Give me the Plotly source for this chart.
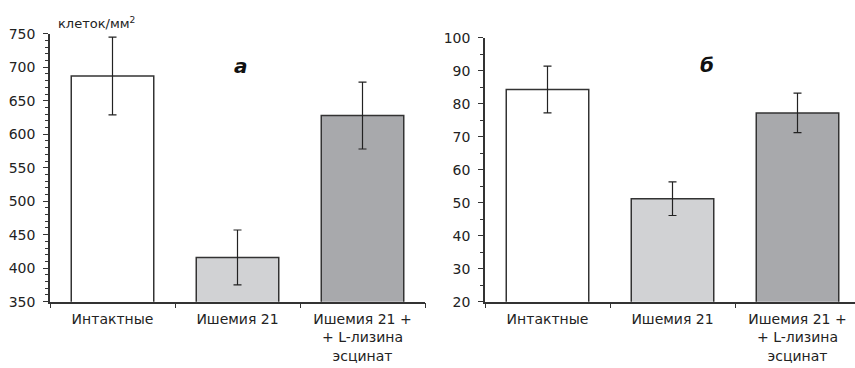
import plotly.graph_objects as go

categories = ["Интактные", "Ишемия 21", "Ишемия 21 +<br>+ L-лизина<br>эсцинат"]
left_values = [687, 416, 628]
left_err = [58, 41, 50]
right_values = [84.3, 51.2, 77.2]
right_err = [7.1, 5.1, 6.0]
bar_colors = ["#ffffff", "#d1d2d4", "#a8a9ac"]

W, H = 855, 368
def px(x):
    return x / W
def py(y):
    return (H - y) / H

LINE = "#333333"
FONT = dict(family="DejaVu Sans", size=14, color="#222222")

fig = go.Figure()
fig.add_trace(go.Bar(
    x=categories, y=left_values, xaxis="x", yaxis="y",
    marker=dict(color=bar_colors, line=dict(color=LINE, width=1.5)),
    width=0.66,
    error_y=dict(type="data", array=left_err, color="#222222", thickness=1.2, width=4),
    showlegend=False,
))
fig.add_trace(go.Bar(
    x=categories, y=right_values, xaxis="x2", yaxis="y2",
    marker=dict(color=bar_colors, line=dict(color=LINE, width=1.5)),
    width=0.66,
    error_y=dict(type="data", array=right_err, color="#222222", thickness=1.2, width=4),
    showlegend=False,
))

def xax(domain, rng, anchor):
    return dict(domain=domain, anchor=anchor, type="category", range=rng,
                showline=True, linecolor=LINE, linewidth=1.5,
                ticks="outside", tickson="boundaries", ticklen=5, tickcolor=LINE,
                tickwidth=1.2, showgrid=False, zeroline=False, tickfont=FONT,
                ticklabelstandoff=4, fixedrange=True)

def yax(domain, rng, dtick, minor, anchor):
    return dict(domain=domain, anchor=anchor, range=rng, dtick=dtick,
                showline=True, linecolor=LINE, linewidth=1.5,
                ticks="outside", ticklen=5, tickcolor=LINE, tickwidth=1.2,
                minor=dict(dtick=minor, ticks="outside", ticklen=3, tickcolor=LINE, tickwidth=1),
                showgrid=False, zeroline=False, tickfont=FONT,
                ticklabelstandoff=5)

def yax_inner(domain, rng, dtick, anchor, overlay):
    return dict(domain=domain, anchor=anchor, overlaying=overlay, range=rng, dtick=dtick,
                showline=False, ticks="inside", ticklen=5, tickcolor=LINE, tickwidth=1.2,
                showticklabels=False, showgrid=False, zeroline=False)

fig.update_layout(
    width=W, height=H, margin=dict(l=0, r=0, t=0, b=0),
    paper_bgcolor="white", plot_bgcolor="white",
    font=FONT, bargap=0.34,
    xaxis=xax([px(50), px(425)], [-0.5, 2.5], "y"),
    yaxis=yax([py(307), py(27)], [350, 750], 50, 10, "x"),
    xaxis2=xax([px(485), 1.0], [-0.5, 2.46], "y2"),
    yaxis2=yax([py(307), py(31)], [20, 100], 10, 5, "x2"),
    yaxis3=yax_inner([py(307), py(27)], [350, 750], 50, "x", "y"),
    yaxis4=yax_inner([py(307), py(31)], [20, 100], 10, "x2", "y2"),
    annotations=[
        dict(text="клеток/мм<sup>2</sup>", x=px(56), y=py(16), xref="paper", yref="paper",
             xanchor="left", yanchor="middle", showarrow=False,
             font=dict(family="DejaVu Sans", size=13, color="#222222")),
        dict(text="<b><i>а</i></b>", x=px(241), y=py(61), xref="paper", yref="paper",
             xanchor="center", yanchor="middle", showarrow=False,
             font=dict(family="DejaVu Sans", size=20, color="#111111")),
        dict(text="<b><i>б</i></b>", x=px(707), y=py(60), xref="paper", yref="paper",
             xanchor="center", yanchor="middle", showarrow=False,
             font=dict(family="DejaVu Sans", size=20, color="#111111")),
    ],
)

fig.write_html("out.html")
